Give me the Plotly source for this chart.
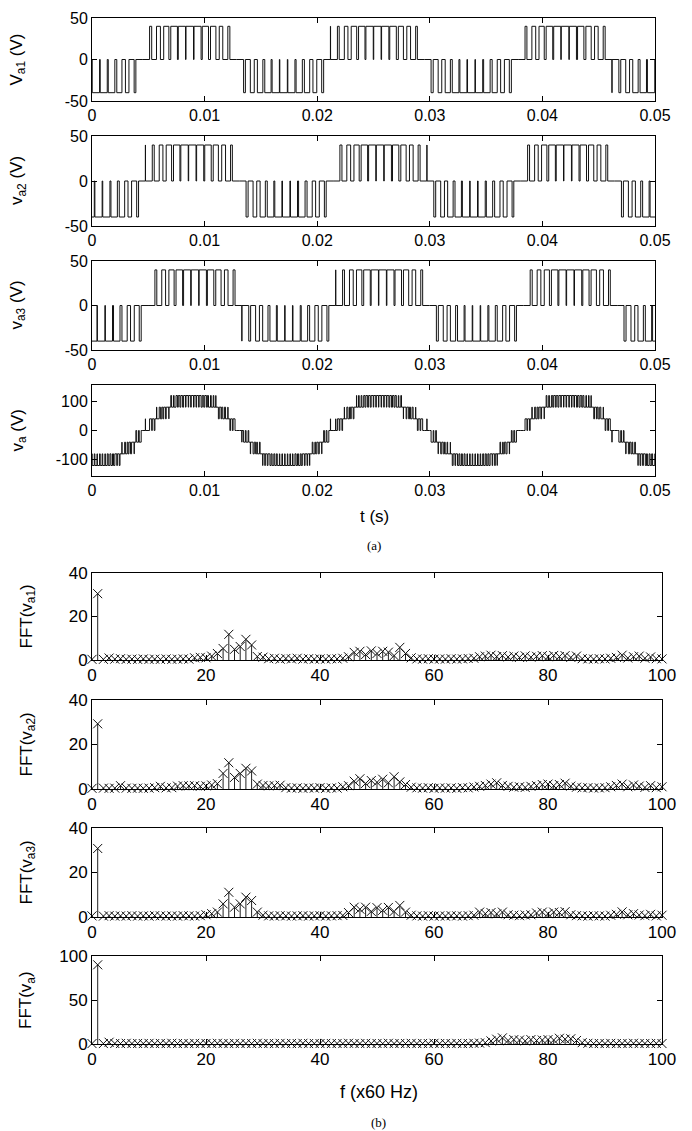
import numpy as np
import plotly.graph_objects as go

# ---------------- data ----------------
t_end = 0.05
n_carrier = 72          # carrier periods in the 0.05 s window
cell_amplitude = 40.0   # dc link of each H-bridge cell (V)
carrier_shift = [0.0, 1.0 / 3.0, 2.0 / 3.0]

# signed duty ratio of each carrier period (read from the pulse widths)
duty_va1 = [-0.94, -0.90, -0.84, -0.66, -0.45, -0.22, 0.00, 0.27, 0.50, 0.66, 0.85, 0.93,
            0.96, 0.90, 0.80, 0.69, 0.45, 0.26, 0.00, -0.23, -0.50, -0.70, -0.81, -0.93,
            -0.96, -0.91, -0.80, -0.68, -0.49, -0.25, 0.02, 0.23, 0.46, 0.70, 0.82, 0.94,
            0.94, 0.93, 0.84, 0.65, 0.48, 0.22, 0.00, -0.27, -0.46, -0.66, -0.85, -0.90,
            -0.95, -0.93, -0.83, -0.65, -0.48, -0.26, 0.00, 0.24, 0.49, 0.67, 0.84, 0.91,
            0.97, 0.91, 0.81, 0.68, 0.46, 0.25, -0.02, -0.24, -0.49, -0.69, -0.82, -0.94]
duty_va2 = [-0.93, -0.92, -0.82, -0.69, -0.46, -0.24, 0.02, 0.25, 0.47, 0.69, 0.82, 0.95,
            0.94, 0.91, 0.83, 0.66, 0.49, 0.23, 0.00, -0.26, -0.47, -0.67, -0.84, -0.91,
            -0.95, -0.90, -0.83, -0.66, -0.47, -0.23, 0.00, 0.26, 0.49, 0.67, 0.83, 0.92,
            0.95, 0.92, 0.81, 0.68, 0.47, 0.25, 0.01, -0.24, -0.48, -0.70, -0.82, -0.93,
            -0.94, -0.91, -0.81, -0.68, -0.49, -0.22, 0.00, 0.25, 0.46, 0.68, 0.85, 0.93,
            0.96, 0.90, 0.82, 0.67, 0.48, 0.24, 0.00, -0.25, -0.47, -0.68, -0.83, -0.92]
duty_va3 = [-0.96, -0.91, -0.83, -0.67, -0.48, -0.25, 0.00, 0.24, 0.49, 0.67, 0.84, 0.91,
            0.95, 0.93, 0.82, 0.68, 0.46, 0.25, -0.01, -0.24, -0.49, -0.68, -0.82, -0.94,
            -0.94, -0.93, -0.82, -0.67, -0.46, -0.24, 0.01, 0.24, 0.48, 0.69, 0.84, 0.93,
            0.96, 0.91, 0.83, 0.67, 0.46, 0.24, 0.00, -0.25, -0.49, -0.67, -0.84, -0.92,
            -0.95, -0.92, -0.82, -0.69, -0.47, -0.23, 0.00, 0.26, 0.47, 0.66, 0.83, 0.92,
            0.94, 0.92, 0.80, 0.68, 0.48, 0.23, 0.00, -0.26, -0.48, -0.69, -0.81, -0.95]

harmonic_order = list(range(0, 101))
fft_va1 = [0.3, 30.5, 0.3, 0.9, 0.4, 0.6, 0.3, 0.4, 0.3, 0.5, 0.3, 0.4, 0.3, 0.5, 0.3, 0.4, 0.5, 0.4,
           1.0, 1.2, 1.0, 1.8, 3.0, 5.3, 11.8, 4.9, 6.2, 9.5, 6.9, 1.6, 1.3, 0.6, 0.8, 0.4, 0.7, 0.5,
           0.8, 0.4, 0.6, 0.4, 0.5, 0.4, 0.6, 0.5, 0.8, 1.5, 3.5, 4.0, 2.5, 4.2, 3.0, 4.0, 3.6, 2.0,
           5.8, 3.0, 1.0, 0.5, 0.4, 0.6, 0.4, 0.5, 0.4, 0.6, 0.4, 0.5, 0.7, 0.8, 1.5, 1.8, 2.2, 1.6,
           2.0, 1.4, 1.8, 1.2, 1.9, 1.3, 1.7, 2.0, 1.5, 2.1, 1.6, 2.0, 1.2, 1.8, 0.6, 0.5, 0.4, 0.6,
           0.5, 0.8, 1.2, 2.2, 0.9, 1.5, 1.8, 0.8, 1.4, 0.6, 0.5]
fft_va2 = [0.3, 29.3, 0.4, 0.3, 0.4, 1.5, 0.4, 0.3, 0.4, 0.3, 0.4, 0.6, 1.2, 0.5, 0.6, 1.3, 1.5, 1.4,
           1.5, 1.2, 1.4, 1.8, 2.4, 7.0, 11.8, 5.2, 7.0, 9.3, 8.1, 2.2, 1.6, 1.4, 1.5, 1.7, 0.6, 0.4,
           0.5, 0.3, 0.5, 0.4, 0.6, 0.3, 0.5, 0.4, 1.0, 1.5, 3.5, 4.6, 2.5, 3.8, 3.0, 4.4, 2.8, 5.5,
           3.2, 2.0, 0.8, 0.5, 0.4, 0.6, 0.3, 0.5, 0.4, 0.5, 0.3, 0.6, 0.5, 0.9, 1.2, 1.6, 2.2, 2.8,
           1.6, 1.2, 0.8, 1.0, 0.7, 1.2, 1.5, 2.0, 2.2, 1.5, 2.0, 2.6, 1.3, 0.8, 0.5, 0.6, 0.4, 0.5,
           0.6, 1.0, 1.6, 2.2, 1.0, 1.8, 1.3, 0.7, 1.5, 0.6, 1.0]
fft_va3 = [0.5, 30.8, 0.4, 0.6, 0.4, 0.5, 0.4, 0.6, 0.4, 0.5, 0.4, 0.6, 0.5, 0.4, 0.5, 0.4, 0.6, 0.5,
           0.4, 0.6, 1.0, 1.5, 2.2, 5.9, 11.1, 4.4, 5.9, 8.9, 7.4, 2.2, 0.8, 0.5, 0.4, 0.6, 0.5, 0.4,
           0.5, 0.6, 0.4, 0.5, 0.6, 0.4, 0.5, 0.6, 0.7, 2.0, 4.4, 3.5, 4.4, 2.5, 4.2, 3.0, 4.3, 2.5,
           5.2, 2.2, 0.8, 0.5, 0.4, 0.6, 0.4, 0.5, 0.4, 0.6, 0.5, 0.4, 0.6, 0.8, 2.2, 1.5, 2.0, 1.4,
           2.2, 1.0, 0.8, 0.6, 0.9, 1.0, 1.8, 2.2, 1.5, 2.2, 2.0, 2.4, 1.0, 0.6, 0.5, 0.4, 0.6, 0.5,
           0.4, 0.8, 1.2, 2.3, 1.0, 1.5, 0.9, 0.6, 1.2, 0.5, 0.8]
fft_va = [0.5, 90.0, 0.5, 2.0, 0.6, 0.5, 0.8, 0.5, 0.6, 0.5, 0.7, 0.5, 0.6, 0.5, 0.8, 0.5, 0.6, 0.5,
          0.7, 0.5, 0.6, 0.5, 0.8, 0.6, 0.5, 0.7, 0.5, 0.6, 0.5, 0.8, 0.5, 0.6, 0.5, 0.7, 0.5, 0.6,
          0.5, 0.8, 0.5, 0.6, 0.5, 0.7, 0.5, 0.6, 0.5, 0.8, 0.6, 0.5, 0.7, 0.5, 0.6, 0.5, 0.8, 0.5,
          0.6, 0.5, 0.7, 0.5, 0.6, 0.5, 0.8, 0.5, 0.6, 0.5, 0.7, 0.5, 0.6, 0.8, 1.0, 1.5, 3.5, 5.5,
          7.0, 4.0, 5.0, 4.5, 3.5, 5.0, 4.0, 4.5, 5.0, 4.5, 6.5, 5.5, 6.0, 4.0, 1.5, 0.8, 0.5, 0.6,
          0.5, 0.7, 0.5, 0.6, 0.5, 0.8, 0.5, 0.6, 0.5, 0.7, 0.5]

time_ticks = [0, 0.01, 0.02, 0.03, 0.04, 0.05]
time_tick_text = ["0", "0.01", "0.02", "0.03", "0.04", "0.05"]
cell_ticks = [-50, 0, 50]
cell_tick_text = ["-50", "0", "50"]
sum_ticks = [-100, 0, 100]
sum_tick_text = ["-100", "0", "100"]
freq_ticks = [0, 20, 40, 60, 80, 100]
fft_ticks = [0, 20, 40]
fft_sum_ticks = [0, 50, 100]

time_titles = ["V<sub>a1</sub> (V)", "v<sub>a2</sub> (V)", "v<sub>a3</sub> (V)", "v<sub>a</sub> (V)"]
fft_titles = ["FFT(v<sub>a1</sub>)", "FFT(v<sub>a2</sub>)", "FFT(v<sub>a3</sub>)", "FFT(v<sub>a</sub>)"]

# ---------------- build waveforms ----------------
T = t_end / n_carrier
duties = [duty_va1, duty_va2, duty_va3]


def level_at(duty, shift, t):
    pos = np.asarray(t) / T - shift
    idx = np.floor(pos).astype(int)
    frac = pos - idx
    d = np.asarray(duty)[idx % n_carrier]
    inside = np.abs(frac - 0.5) < np.abs(d) / 2
    return np.where(inside, np.sign(d) * cell_amplitude, 0.0)


def edges(duty, shift):
    e = {0.0, t_end}
    for i in range(-1, n_carrier + 1):
        d = abs(duty[i % n_carrier])
        c = (i + 0.5 + shift) * T
        e.add(c - d * T / 2)
        e.add(c + d * T / 2)
    return np.array(sorted(x for x in e if 0.0 <= x <= t_end))


cell_t, cell_v = [], []
all_edges = set()
for duty, sh in zip(duties, carrier_shift):
    ts = edges(duty, sh)
    all_edges.update(ts.tolist())
    cell_t.append(ts)
    cell_v.append(level_at(duty, sh, np.minimum(ts + 1e-9, t_end - 1e-9)))

sum_t = np.array(sorted(all_edges))
probe = np.minimum(sum_t + 1e-9, t_end - 1e-9)
sum_v = sum(level_at(d, s, probe) for d, s in zip(duties, carrier_shift))

# ---------------- figure ----------------
W, H = 692, 1131
OFF = 8  # page body margin of the html page


def px(x):
    return (x - OFF) / W


def py(y):
    return 1 - (y - OFF) / H


time_x = [px(92), px(655)]
fft_x = [px(92), px(662)]
panels_px = [(18, 101), (136, 226), (261, 350), (385, 476),
             (573, 660), (700, 789), (828, 917), (956, 1044)]

fig = go.Figure()
font_fam = "Arial, Liberation Sans, Helvetica, sans-serif"

for k in range(3):
    fig.add_trace(go.Scatter(x=cell_t[k], y=cell_v[k], mode="lines", line_shape="hv",
                             line=dict(color="#111111", width=1),
                             xaxis="x" if k == 0 else f"x{k+1}", yaxis="y" if k == 0 else f"y{k+1}",
                             showlegend=False, hoverinfo="skip"))
fig.add_trace(go.Scatter(x=sum_t, y=sum_v, mode="lines", line_shape="hv",
                         line=dict(color="#111111", width=1),
                         xaxis="x4", yaxis="y4", showlegend=False, hoverinfo="skip"))

fft_sets = [fft_va1, fft_va2, fft_va3, fft_va]
for k, vals in enumerate(fft_sets):
    ax = k + 5
    sx, sy = [], []
    for h, v in zip(harmonic_order, vals):
        sx += [h, h, None]
        sy += [0, v, None]
    fig.add_trace(go.Scatter(x=sx, y=sy, mode="lines", line=dict(color="#222222", width=1),
                             xaxis=f"x{ax}", yaxis=f"y{ax}", showlegend=False, hoverinfo="skip"))
    fig.add_trace(go.Scatter(x=harmonic_order, y=vals, mode="markers",
                             marker=dict(symbol="x-thin", size=9, color="#111111",
                                         line=dict(width=1, color="#111111")),
                             xaxis=f"x{ax}", yaxis=f"y{ax}", showlegend=False, hoverinfo="skip",
                             cliponaxis=False))

axis_common = dict(showline=True, linecolor="black", linewidth=1, mirror="ticks",
                   ticks="inside", ticklen=5, tickcolor="black", showgrid=False,
                   zeroline=False, automargin=False, ticklabeloverflow="allow",
                   tickfont=dict(family=font_fam, size=16, color="black"))

layout = dict(width=W, height=H, margin=dict(l=0, r=0, t=0, b=0, pad=0, autoexpand=False),
              paper_bgcolor="white", plot_bgcolor="white", showlegend=False)

for i in range(8):
    n = i + 1
    top, bot = panels_px[i]
    xa = dict(axis_common)
    ya = dict(axis_common)
    ya["domain"] = [py(bot), py(top)]
    if i < 4:
        xa.update(domain=time_x, range=[0, t_end], tickvals=time_ticks, ticktext=time_tick_text)
        if i < 3:
            ya.update(range=[-50, 50], tickvals=cell_ticks, ticktext=cell_tick_text)
        else:
            ya.update(range=[-156, 156], tickvals=sum_ticks, ticktext=sum_tick_text)
    else:
        xa.update(domain=fft_x, range=[0, 100], tickvals=freq_ticks)
        xa["tickfont"] = dict(family=font_fam, size=17, color="black")
        ya["tickfont"] = dict(family=font_fam, size=17, color="black")
        if i < 7:
            ya.update(range=[0, 40], tickvals=fft_ticks)
        else:
            ya.update(range=[0, 100], tickvals=fft_sum_ticks)
    xa["anchor"] = "y" if n == 1 else f"y{n}"
    ya["anchor"] = "x" if n == 1 else f"x{n}"
    layout["xaxis" if n == 1 else f"xaxis{n}"] = xa
    layout["yaxis" if n == 1 else f"yaxis{n}"] = ya

fig.update_layout(**layout)

ann = []
for i in range(4):
    top, bot = panels_px[i]
    ann.append(dict(text=time_titles[i], x=px(18), y=py((top + bot) / 2), xref="paper", yref="paper",
                    textangle=-90, showarrow=False, xanchor="center", yanchor="middle",
                    font=dict(family=font_fam, size=17, color="black")))
for i in range(4):
    top, bot = panels_px[i + 4]
    ann.append(dict(text=fft_titles[i], x=px(27), y=py((top + bot) / 2), xref="paper", yref="paper",
                    textangle=-90, showarrow=False, xanchor="center", yanchor="middle",
                    font=dict(family=font_fam, size=17, color="black")))
ann.append(dict(text="t (s)", x=px(374), y=py(516), xref="paper", yref="paper", showarrow=False,
                xanchor="center", yanchor="middle", font=dict(family=font_fam, size=17, color="black")))
ann.append(dict(text="(a)", x=px(374), y=py(546), xref="paper", yref="paper", showarrow=False,
                xanchor="center", yanchor="middle",
                font=dict(family="Liberation Serif, Times New Roman, serif", size=13, color="black")))
ann.append(dict(text="f (x60 Hz)", x=px(379), y=py(1092), xref="paper", yref="paper", showarrow=False,
                xanchor="center", yanchor="middle", font=dict(family=font_fam, size=18, color="black")))
ann.append(dict(text="(b)", x=px(378), y=py(1122), xref="paper", yref="paper", showarrow=False,
                xanchor="center", yanchor="middle",
                font=dict(family="Liberation Serif, Times New Roman, serif", size=13, color="black")))
fig.update_layout(annotations=ann)

fig.write_html("out.html")
